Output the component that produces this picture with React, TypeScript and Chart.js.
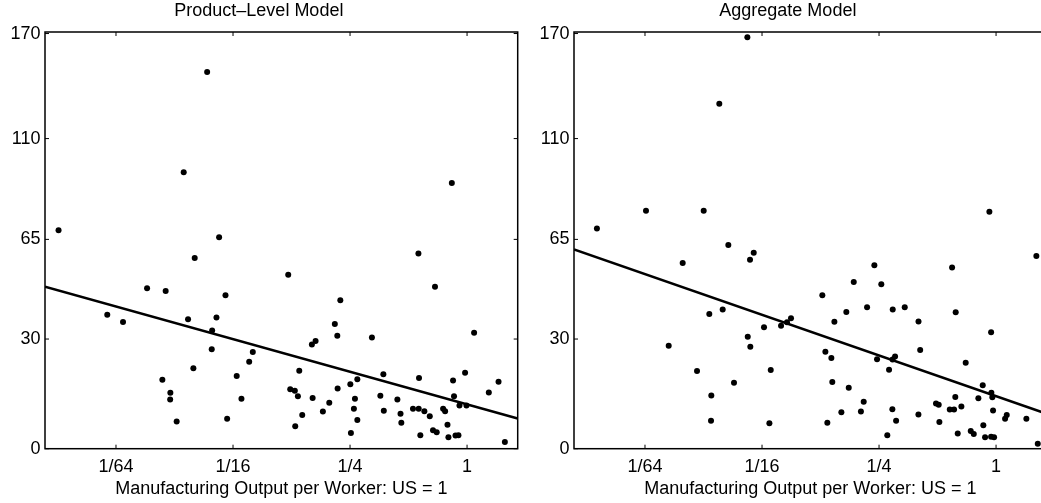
import React, { useEffect, useRef } from "react";
import { Chart, registerables } from "chart.js";

Chart.register(...registerables);

// ---- axis definitions ----
const xTickValues = [1 / 64, 1 / 16, 1 / 4, 1];
const xTickLabels = ["1/64", "1/16", "1/4", "1"];
const yTickValues = [0, 30, 65, 110, 170];
const X_MIN = Math.exp(-5);
const X_MAX = Math.exp(0.6);
const Y_SHIFT = 100; // vertical axis is logarithmic in (100 + value)
const Y_TOP = 171;

const xTitle = "Manufacturing Output per Worker: US = 1";
const panelTitles = ["Product\u2013Level Model", "Aggregate Model"];

// ---- Product-Level Model ----
const productX = [
  0.046, 0.03485, 0.00791, 0.053, 0.835, 0.0397, 0.02258, 0.02814, 0.05716, 0.01409,
  0.01698, 0.03669, 0.05137, 0.04881, 0.04857, 0.079, 0.0757, 0.03907, 0.0653, 0.02706,
  0.02975, 0.02968, 0.06907, 0.03206, 0.0583, 0.562, 0.1202, 0.684, 0.2228, 0.2088,
  0.215, 1.087, 0.324, 0.1591, 0.1662, 0.137, 0.371, 0.977, 0.566, 0.847,
  1.452, 0.2726, 0.2509, 0.2158, 0.1231, 0.13, 0.1348, 0.1605, 1.294, 0.358,
  0.438, 0.265, 0.857, 0.1955, 0.914, 0.993, 0.1812, 0.2617, 0.373, 0.527,
  0.564, 0.603, 0.643, 0.753, 0.771, 0.1419, 0.4547, 0.2726, 0.459, 0.793,
  0.1306, 0.668, 0.698, 0.2526, 0.575, 0.802, 0.872, 0.903, 1.565,
];
const productY = [
  146.3, 93.7, 68.6, 65.8, 88.8, 57.8, 46.8, 45.8, 44.4, 37.8,
  35.4, 36.3, 36.9, 32.7, 26.9, 26.0, 23.1, 21.2, 19.0, 17.9,
  14.3, 12.5, 12.7, 6.7, 7.4, 59.5, 51.6, 47.3, 42.6, 34.8,
  31.0, 32.0, 30.5, 28.3, 29.4, 20.5, 19.5, 19.9, 18.4, 17.7,
  17.4, 18.1, 16.7, 15.5, 15.3, 14.9, 13.4, 12.9, 14.4, 13.5,
  12.5, 12.7, 13.4, 11.6, 10.9, 10.9, 9.3, 10.0, 9.5, 10.0,
  10.0, 9.4, 8.1, 10.0, 9.4, 8.4, 8.7, 7.1, 6.4, 5.9,
  5.5, 4.5, 4.0, 3.8, 3.3, 2.8, 3.2, 3.3, 1.6,
];
const productFitX = [X_MIN, X_MAX];
const productFitY = [47.3, 7.5];

// ---- Aggregate Model ----
const aggregateX = [
  0.00884, 0.01581, 0.03132, 0.03768, 0.05253, 0.924, 0.04194, 0.02442, 0.05422, 0.05665,
  0.03347, 0.03922, 0.02069, 0.05278, 0.05441, 0.064, 0.0783, 0.084, 0.0881, 0.02894,
  0.04485, 0.0693, 0.03428, 0.03416, 0.0682, 1.612, 0.2365, 0.594, 0.1853, 0.2568,
  0.1277, 0.217, 0.339, 0.294, 0.1697, 0.62, 0.1473, 0.399, 0.943, 0.1324,
  0.1421, 0.407, 0.2442, 0.3023, 0.2934, 0.698, 0.2815, 0.1437, 0.1746, 0.854,
  0.946, 0.957, 0.811, 0.617, 0.2085, 0.491, 0.507, 0.663, 0.578, 0.608,
  0.2927, 0.16, 0.2017, 0.965, 1.135, 1.113, 1.432, 0.3986, 0.306, 0.511,
  0.1355, 0.86, 0.2757, 0.635, 0.741, 0.768, 0.878, 0.943, 0.977, 1.639,
];
const aggregateY = [
  69.4, 76.7, 76.7, 128.3, 167.6, 76.3, 62.8, 55.9, 57.2, 59.8,
  38.0, 39.5, 27.9, 30.7, 27.6, 33.7, 34.2, 35.3, 36.6, 20.4,
  17.1, 20.7, 13.6, 6.9, 6.3, 58.6, 55.1, 54.3, 49.0, 48.2,
  44.4, 40.3, 40.3, 39.5, 38.7, 38.6, 35.5, 35.6, 32.1, 26.1,
  24.2, 26.6, 23.9, 24.7, 23.8, 22.8, 20.8, 17.3, 15.7, 16.4,
  14.3, 13.1, 12.8, 13.2, 11.9, 11.4, 11.1, 10.6, 9.8, 9.8,
  9.9, 9.1, 9.3, 9.6, 8.4, 7.4, 7.4, 8.5, 6.9, 6.6,
  6.4, 5.8, 3.3, 3.7, 4.3, 3.6, 2.8, 2.9, 2.8, 1.2,
];
const aggregateFitX = [X_MIN, X_MAX];
const aggregateFitY = [61.1, 8.7];

const FONT = "'Liberation Sans', Arial, Helvetica, sans-serif";
const FS = 18;

const framePlugin = {
  id: "frameTicks",
  afterDatasetsDraw(chart: any) {
    const { ctx, chartArea } = chart;
    const { left, right, top, bottom } = chartArea;
    const xs = chart.scales.x;
    const ys = chart.scales.y;
    ctx.save();
    ctx.strokeStyle = "#000";
    ctx.lineWidth = 1.5;
    ctx.strokeRect(left, top, right - left, bottom - top);
    ctx.lineWidth = 1;
    const tl = 4;
    ctx.beginPath();
    for (const v of xTickValues) {
      const px = xs.getPixelForValue(v);
      ctx.moveTo(px, bottom);
      ctx.lineTo(px, bottom - tl);
      ctx.moveTo(px, top);
      ctx.lineTo(px, top + tl);
    }
    for (const v of yTickValues) {
      const py = ys.getPixelForValue(v + Y_SHIFT);
      ctx.moveTo(left, py);
      ctx.lineTo(left + tl, py);
      ctx.moveTo(right, py);
      ctx.lineTo(right - tl, py);
    }
    ctx.stroke();
    ctx.restore();
  },
};

function makeConfig(title: string, xs: number[], ys: number[], fx: number[], fy: number[]): any {
  return {
    type: "scatter",
    data: {
      datasets: [
        {
          data: xs.map((x, i) => ({ x, y: ys[i] + Y_SHIFT })),
          showLine: false,
          pointRadius: 3,
          pointBorderWidth: 0,
          pointBackgroundColor: "#000",
          pointBorderColor: "#000",
        },
        {
          data: fx.map((x, i) => ({ x, y: fy[i] + Y_SHIFT })),
          showLine: true,
          pointRadius: 0,
          borderColor: "#000",
          borderWidth: 2.5,
          tension: 0,
        },
      ],
    },
    options: {
      responsive: false,
      animation: false,
      devicePixelRatio: 1,
      events: [],
      layout: { padding: { left: 0, right: 22.3, top: 0, bottom: 0 } },
      plugins: {
        legend: { display: false },
        tooltip: { enabled: false },
        title: {
          display: true,
          text: title,
          color: "#000",
          font: { family: FONT, size: FS, weight: "normal", lineHeight: 1.2 },
          padding: { top: 0, bottom: 10.4 },
        },
      },
      scales: {
        x: {
          type: "logarithmic",
          min: X_MIN,
          max: X_MAX,
          grid: { display: false, drawTicks: false },
          border: { display: false },
          afterBuildTicks: (s: any) => {
            s.ticks = xTickValues.map((v) => ({ value: v }));
          },
          afterFit: (s: any) => {
            s.height = 54.3;
          },
          ticks: {
            color: "#000",
            font: { family: FONT, size: FS, lineHeight: 1.2 },
            padding: 8,
            maxRotation: 0,
            autoSkip: false,
            callback: (_v: any, i: number) => xTickLabels[i],
          },
          title: {
            display: true,
            text: xTitle,
            color: "#000",
            font: { family: FONT, size: FS, lineHeight: 1.2 },
            padding: { top: 0, bottom: 3.3 },
          },
        },
        y: {
          type: "logarithmic",
          min: Y_SHIFT,
          max: Y_TOP + Y_SHIFT - 100 + 100,
          grid: { display: false, drawTicks: false },
          border: { display: false },
          afterBuildTicks: (s: any) => {
            s.ticks = yTickValues.map((v) => ({ value: v + Y_SHIFT }));
          },
          afterFit: (s: any) => {
            s.width = 45;
          },
          ticks: {
            color: "#000",
            font: { family: FONT, size: FS, lineHeight: 1.2 },
            padding: 4.5,
            autoSkip: false,
            callback: (v: any) => String(Math.round(Number(v) - Y_SHIFT)),
          },
        },
      },
    },
    plugins: [framePlugin],
  };
}

function Panel(props: { left: number; cfg: () => any }) {
  const ref = useRef<HTMLCanvasElement | null>(null);
  useEffect(() => {
    if (!ref.current) return;
    const chart = new Chart(ref.current, props.cfg());
    return () => chart.destroy();
  }, []);
  return (
    <canvas
      ref={ref}
      width={540}
      height={503}
      style={{ position: "absolute", left: props.left, top: 0, width: 540, height: 503 }}
    />
  );
}

export default function App() {
  return (
    <div
      style={{
        position: "fixed",
        left: 0,
        top: 0,
        width: 1041,
        height: 503,
        overflow: "hidden",
        background: "#fff",
      }}
    >
      <Panel left={0} cfg={() => makeConfig(panelTitles[0], productX, productY, productFitX, productFitY)} />
      <Panel left={529} cfg={() => makeConfig(panelTitles[1], aggregateX, aggregateY, aggregateFitX, aggregateFitY)} />
    </div>
  );
}
